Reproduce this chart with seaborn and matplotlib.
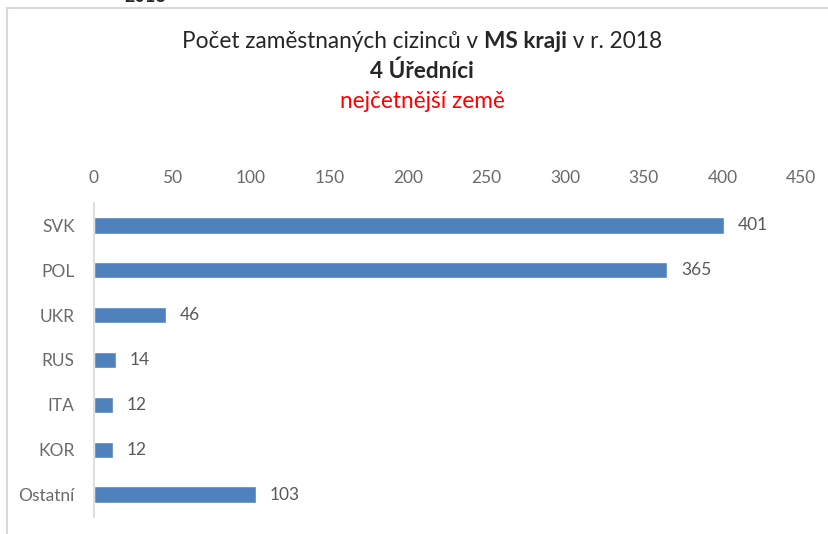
import matplotlib
matplotlib.use("Agg")
import matplotlib.pyplot as plt
from matplotlib.patches import Rectangle
import seaborn as sns
import pandas as pd

countries = ["SVK", "POL", "UKR", "RUS", "ITA", "KOR", "Ostatní"]
counts = [401, 365, 46, 14, 12, 12, 103]
x_ticks = [0, 50, 100, 150, 200, 250, 300, 350, 400, 450]

df = pd.DataFrame({"country": countries, "count": counts})

sns.set_theme(style="white")
plt.rcParams["font.family"] = ["Lato", "DejaVu Sans"]

W, H = 829, 534
fig = plt.figure(figsize=(W / 100, H / 100), dpi=100)
ax = fig.add_axes([94 / W, 1 - 517 / H, (801 - 94) / W, (517 - 203) / H])

sns.barplot(data=df, x="count", y="country", orient="h", color="#4f81bd",
            saturation=1, width=0.36, ax=ax)

ax.set_xlim(0, 450)
ax.set_xticks(x_ticks)
ax.xaxis.tick_top()
ax.tick_params(axis="x", length=0, pad=12, labelsize=12.5, labelcolor="#6a6a6a")
ax.tick_params(axis="y", length=0, pad=14, labelsize=12.5, labelcolor="#6a6a6a")
ax.set_xlabel("")
ax.set_ylabel("")
for side in ["top", "right", "bottom"]:
    ax.spines[side].set_visible(False)
ax.spines["left"].set_color("#d9d9d9")
ax.spines["left"].set_linewidth(1.2)

for container in ax.containers:
    ax.bar_label(container, labels=[str(v) for v in counts], padding=10,
                 fontsize=12.5, color="#595959")

# chart frame (only its top and left edges fall inside the figure)
fig.patches.append(Rectangle((7 / W, -0.1), 1.2, 1 - 8 / H + 0.1,
                             transform=fig.transFigure, fill=False,
                             edgecolor="#d9d9d9", linewidth=1.5))

fig.text(145 / W, 1 + 3 / H, "2018", ha="center", va="center",
         fontsize=13, fontweight="bold", color="#262626")


def mixed_line(parts, cx, cy, size, color):
    """Draw a centred line made of (text, weight) pieces."""
    renderer = fig.canvas.get_renderer()
    texts = [fig.text(0, cy, s, fontsize=size, fontweight=w, color=color,
                      ha="left", va="center") for s, w in parts]
    widths = [t.get_window_extent(renderer).width / W for t in texts]
    x = cx - sum(widths) / 2
    for t, wd in zip(texts, widths):
        t.set_x(x)
        x += wd


cx = 422 / W
mixed_line([("Počet zaměstnaných cizinců v ", "normal"),
            ("MS kraji", "bold"),
            (" v r. 2018", "normal")],
           cx, 1 - 42 / H, 16.3, "#262626")
fig.text(cx, 1 - 71 / H, "4 Úředníci", ha="center", va="center",
         fontsize=16.3, fontweight="bold", color="#262626")
fig.text(cx, 1 - 101 / H, "nejčetnější země", ha="center", va="center",
         fontsize=16.3, color="#ff0000")

fig.savefig("out.png", dpi=100, facecolor="white")
